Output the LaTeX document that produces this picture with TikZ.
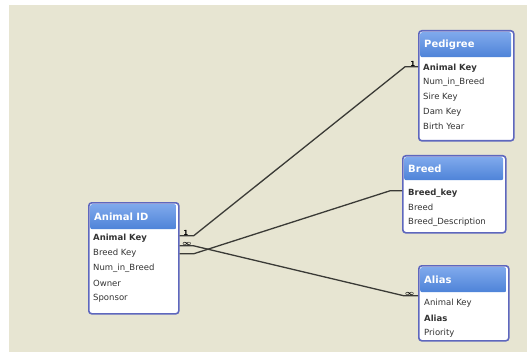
\documentclass[tikz,border=0pt]{standalone}
\usepackage{amsmath}
\usepackage{fontspec}
\setmainfont{DejaVu Sans}
\usetikzlibrary{positioning, shadings}
\definecolor{paper}{HTML}{E7E5D2}
\definecolor{frameblue}{HTML}{5E67BE}
\definecolor{headtop}{HTML}{7FA9EC}
\definecolor{headbot}{HTML}{4E83D8}
\definecolor{linkgray}{HTML}{3A3A36}
\tikzset{
  tablebox/.style={draw=frameblue, line width=1.6pt, fill=white, rounded corners=3pt,
    anchor=north west, inner sep=0pt},
  tablehead/.style={top color=headtop, bottom color=headbot, draw=none, anchor=north west,
    rounded corners=2pt, inner sep=0pt, minimum height=25pt, text=white,
    font=\fontsize{10}{11}\selectfont\bfseries, align=left, text width=#1, inner xsep=4pt},
  field/.style={anchor=west, inner sep=0pt, text=black!80, font=\fontsize{8.5}{9}\selectfont},
  rel/.style={draw=linkgray, line width=1.3pt},
  card/.style={inner sep=0.5pt, font=\fontsize{7}{8}\selectfont\bfseries, text=black}
}
\begin{document}
\begin{tikzpicture}[x=1pt, y=-1pt]
  \useasboundingbox (0,0) rectangle (527,358);
  \fill[paper] (9,5) rectangle (527,352);
  % tables
  \node[tablebox, minimum width=90pt, minimum height=111pt] (animal) at (88,202) {};
  \node[tablehead=78pt] (animal head) at ([shift={(2,2)}]animal.north west) {Animal ID};
  \foreach \t [count=\i from 0] in {{\textbf{Animal Key}}, Breed Key, Num\_in\_Breed, Owner, Sponsor}
    \node[field] (animal f\i) at (93,238+15*\i) {\t};

  \node[tablebox, minimum width=95pt, minimum height=110pt] (pedigree) at (418,30) {};
  \node[tablehead=83pt] (pedigree head) at ([shift={(2,2)}]pedigree.north west) {Pedigree};
  \foreach \t [count=\i from 0] in {{\textbf{Animal Key}}, Num\_in\_Breed, Sire Key, Dam Key, Birth Year}
    \node[field] (pedigree f\i) at (423,68+14.7*\i) {\t};

  \node[tablebox, minimum width=103pt, minimum height=77pt] (breed) at (402,155) {};
  \node[tablehead=91pt, minimum height=23pt] (breed head) at ([shift={(2,2)}]breed.north west) {Breed};
  \foreach \t [count=\i from 0] in {{\textbf{Breed\_key}}, Breed, Breed\_Description}
    \node[field] (breed f\i) at (408,193+14.5*\i) {\t};

  \node[tablebox, minimum width=90pt, minimum height=75pt] (alias) at (418,265) {};
  \node[tablehead=78pt] (alias head) at ([shift={(2,2)}]alias.north west) {Alias};
  \foreach \t [count=\i from 0] in {Animal Key, {\textbf{Alias}}, Priority}
    \node[field] (alias f\i) at (424,303+15*\i) {\t};

  % relationship ends
  \coordinate (a ped) at ([yshift=22.5pt]animal.east);
  \coordinate (a ali) at ([yshift=12.5pt]animal.east);
  \coordinate (a brd) at ([yshift=4.5pt]animal.east);
  \coordinate (ped end) at ([yshift=19pt]pedigree.west);
  \coordinate (brd end) at ([yshift=3.5pt]breed.west);
  \coordinate (ali end) at ([yshift=7.5pt]alias.west);

  \draw[rel] (a ped) -- ++(14,0) -- ([xshift=-13pt]ped end) -- (ped end);
  \draw[rel] (a ali) -- ++(14,0) -- ([xshift=-14pt]ali end) -- (ali end);
  \draw[rel] (a brd) -- ++(14,0) -- ([xshift=-12pt]brd end) -- (brd end);

  \node[card, above right=0pt and 3pt of a ped] {1};
  \node[card, above right=0pt and 2pt of a ali] {\(\boldsymbol{\infty}\)};
  \node[card, above left=0pt and 2pt of ped end] {1};
  \node[card, above left=0pt and 3pt of ali end] {\(\boldsymbol{\infty}\)};
\end{tikzpicture}
\end{document}
